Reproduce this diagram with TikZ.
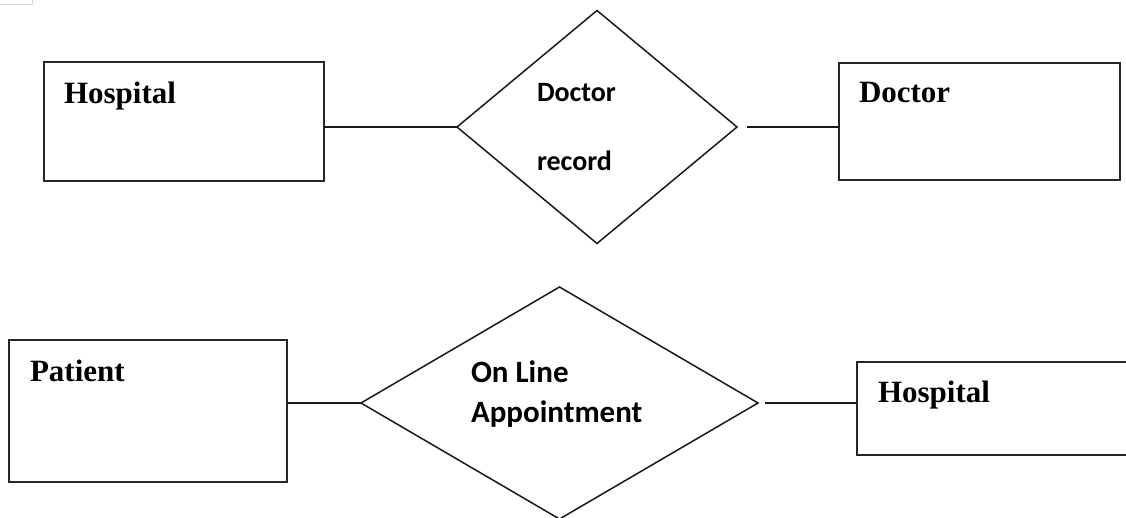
\documentclass[tikz,border=0pt]{standalone}
\usepackage{fontspec}
\setmainfont{Liberation Serif}
\newfontfamily\relfont{Carlito}
\usetikzlibrary{shapes,positioning}

\begin{document}
\begin{tikzpicture}[x=1pt,y=-1pt]
		\tikzstyle{every node}=[inner sep=0pt, outer sep=0pt]
		\tikzstyle{entity}=[draw=black!85, line width=1.8pt, rectangle, anchor=north west]
		\tikzstyle{relation}=[draw=black!90, line width=1.5pt, diamond]
		\tikzstyle{entlabel}=[font=\fontsize{31}{37}\selectfont\bfseries, anchor=base west]
		\tikzstyle{rellabel}=[font=\fontsize{28}{34}\selectfont\relfont\bfseries, anchor=base west]
		\tikzstyle{link}=[line width=1.5pt, black!90]
		\clip (0,0) rectangle (1126,518);
		\fill [white] (0,0) rectangle (1126,518);
		\draw [line width=0.8pt, black!15] (0,4) -- (32,4) -- (32,0);
		% top row
		\node [entity, minimum width=280pt, minimum height=119pt] (hospA) at (44,62) {};
		\node [entlabel] (hospAlbl) at (64,104) {Hospital};
		\node [relation, minimum width=280pt, minimum height=233pt] (docrec) at (597,127) {};
		\node [rellabel] (docreclblA) at (537,102) {Doctor};
		\node [rellabel] (docreclblB) at (537,171) {record};
		\node [entity, minimum width=281pt, minimum height=117pt] (doc) at (839,63) {};
		\node [entlabel] (doclbl) at (859,103) {Doctor};
		\coordinate (docrecgap) at (747,127);
		\draw [link] (docrec.west -| hospA.east) -- (docrec.west);
		\draw [link] (docrecgap) -- (docrecgap -| doc.west);
		% bottom row
		\node [entity, minimum width=278pt, minimum height=142pt] (pat) at (9,340) {};
		\node [entlabel] (patlbl) at (30,381) {Patient};
		\node [relation, minimum width=397pt, minimum height=232pt] (appt) at (559.5,403) {};
		\node [rellabel, font=\fontsize{31}{37}\selectfont\relfont\bfseries] (apptlblA) at (471,382) {On Line};
		\node [rellabel, font=\fontsize{31}{37}\selectfont\relfont\bfseries] (apptlblB) at (471,422) {Appointment};
		\node [entity, minimum width=300pt, minimum height=93pt] (hospB) at (857,362) {};
		\node [entlabel] (hospBlbl) at (878,402) {Hospital};
		\coordinate (apptgap) at (765,403);
		\draw [link] (appt.west -| pat.east) -- (appt.west);
		\draw [link] (apptgap) -- (apptgap -| hospB.west);
	\end{tikzpicture}
\end{document}
